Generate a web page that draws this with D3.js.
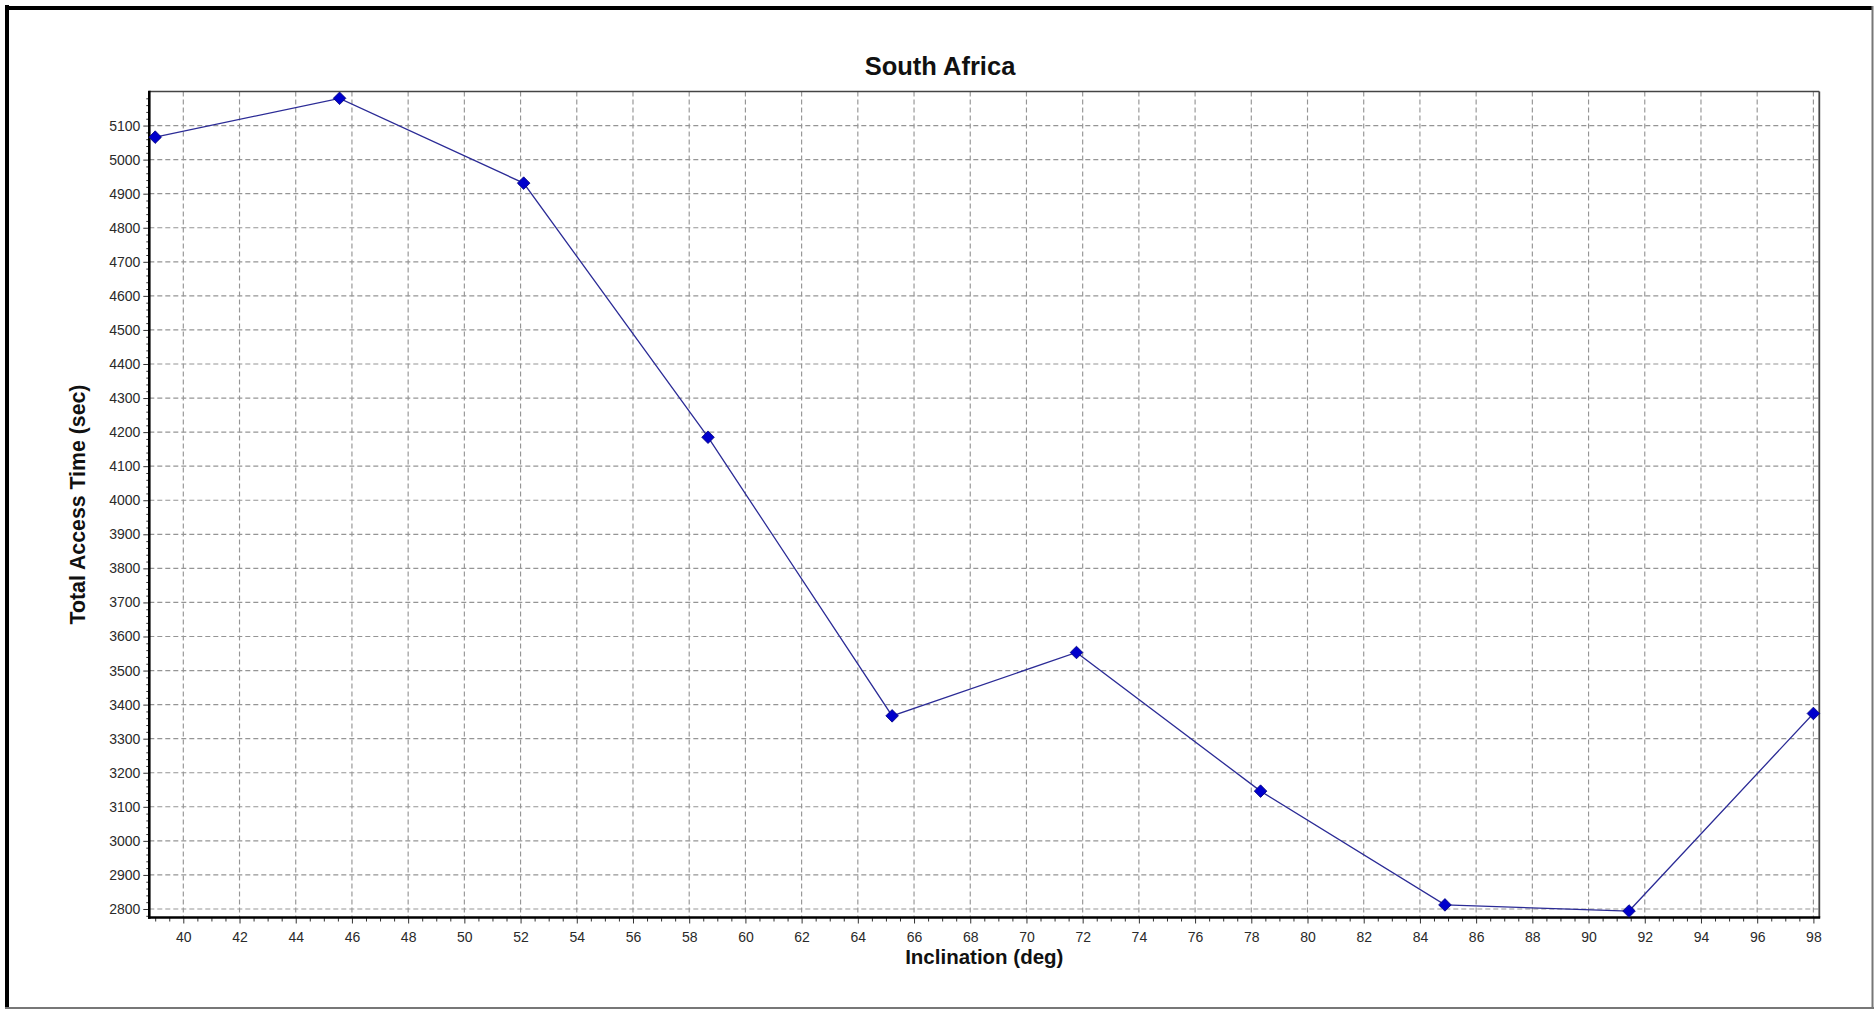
<!DOCTYPE html>
<html>
<head>
<meta charset="utf-8">
<script src="https://cdn.jsdelivr.net/npm/d3@7"></script>
<style>
  html, body { margin: 0; padding: 0; background: #fff; }
  svg { display: block; }
  text { font-family: "Liberation Sans", Arial, sans-serif; }
</style>
</head>
<body>
<script>
// ---- data ----
const chartTitle = "South Africa";
const xLabel = "Inclination (deg)";
const yLabel = "Total Access Time (sec)";
const inclination = [39, 45.56, 52.11, 58.67, 65.22, 71.78, 78.33, 84.89, 91.44, 98];
const accessTime = [5066, 5180, 4931, 4185, 3367, 3553, 3146, 2812, 2794, 3374];
const xTickValues = [40, 42, 44, 46, 48, 50, 52, 54, 56, 58, 60, 62, 64, 66, 68, 70, 72, 74, 76, 78, 80, 82, 84, 86, 88, 90, 92, 94, 96, 98];
const yTickValues = [2800, 2900, 3000, 3100, 3200, 3300, 3400, 3500, 3600, 3700, 3800, 3900, 4000, 4100, 4200, 4300, 4400, 4500, 4600, 4700, 4800, 4900, 5000, 5100];

// ---- layout ----
const W = 1874, H = 1009;
const plot = { left: 149.3, right: 1819.3, top: 91.5, bottom: 917.5 };

const svg = d3.select("body").append("svg").attr("width", W).attr("height", H);

// outer frame
svg.append("rect").attr("x", 0).attr("y", 0).attr("width", W).attr("height", H).attr("fill", "#fff");
svg.append("line").attr("x1", 7).attr("x2", 7).attr("y1", 5).attr("y2", 1008).attr("stroke", "#000").attr("stroke-width", 4);
svg.append("line").attr("x1", 5).attr("x2", 1873).attr("y1", 8).attr("y2", 8).attr("stroke", "#000").attr("stroke-width", 4);
svg.append("line").attr("x1", 1872.5).attr("x2", 1872.5).attr("y1", 6).attr("y2", 1009).attr("stroke", "#777").attr("stroke-width", 2);
svg.append("line").attr("x1", 5).attr("x2", 1874).attr("y1", 1008).attr("y2", 1008).attr("stroke", "#777").attr("stroke-width", 2);

const x = d3.scaleLinear().domain([38.79, 98.21]).range([plot.left, plot.right]);
const y = d3.scaleLinear().domain([2775, 5200]).range([plot.bottom, plot.top]);

// grid
const grid = svg.append("g").attr("stroke", "#959595").attr("stroke-width", 1.15).attr("stroke-dasharray", "5,3");
grid.selectAll(".vg").data(xTickValues).enter().append("line")
  .attr("x1", d => x(d)).attr("x2", d => x(d))
  .attr("y1", plot.top).attr("y2", plot.bottom);
grid.selectAll(".hg").data(yTickValues).enter().append("line")
  .attr("x1", plot.left).attr("x2", plot.right)
  .attr("y1", d => y(d)).attr("y2", d => y(d));

// minor ticks
const xMinor = d3.range(39, 98.01, 0.5).filter(v => xTickValues.indexOf(v) < 0);
const yMinor = d3.range(2780, 5200, 20).filter(v => v % 100 !== 0);

const xAxisMinor = d3.axisBottom(x).tickValues(xMinor).tickSize(4).tickFormat("");
const xAxisMajor = d3.axisBottom(x).tickValues(xTickValues).tickSize(6).tickPadding(9).tickFormat(d3.format("d"));
const yAxisMinor = d3.axisLeft(y).tickValues(yMinor).tickSize(3).tickFormat("");
const yAxisMajor = d3.axisLeft(y).tickValues(yTickValues).tickSize(6).tickPadding(3).tickFormat(d3.format("d"));

function styleAxis(g) {
  g.select(".domain").remove();
  g.selectAll(".tick line").attr("stroke", "#333").attr("stroke-width", 1);
  g.selectAll(".tick text").attr("fill", "#2a2a2a").style("font-size", "14px").style("font-family", "'Liberation Sans', Arial, sans-serif");
}

svg.append("g").attr("transform", `translate(0,${plot.bottom})`).call(xAxisMinor).call(styleAxis);
svg.append("g").attr("transform", `translate(0,${plot.bottom})`).call(xAxisMajor).call(styleAxis);
svg.append("g").attr("transform", `translate(${plot.left},0)`).call(yAxisMinor).call(styleAxis);
svg.append("g").attr("transform", `translate(${plot.left},0)`).call(yAxisMajor).call(styleAxis);

// plot frame
svg.append("line").attr("x1", plot.left).attr("x2", plot.right).attr("y1", plot.top).attr("y2", plot.top).attr("stroke", "#444").attr("stroke-width", 1.5);
svg.append("line").attr("x1", plot.right).attr("x2", plot.right).attr("y1", plot.top).attr("y2", plot.bottom).attr("stroke", "#444").attr("stroke-width", 1.8);
svg.append("line").attr("x1", plot.left).attr("x2", plot.left).attr("y1", plot.top - 0.75).attr("y2", plot.bottom + 1.3).attr("stroke", "#000").attr("stroke-width", 2.6);
svg.append("line").attr("x1", plot.left - 1.3).attr("x2", plot.right + 0.9).attr("y1", plot.bottom).attr("y2", plot.bottom).attr("stroke", "#000").attr("stroke-width", 2.6);

// series
const pts = inclination.map((v, i) => [v, accessTime[i]]);
svg.append("path").datum(pts)
  .attr("fill", "none").attr("stroke", "#2b2b96").attr("stroke-width", 1.3)
  .attr("d", d3.line().x(d => x(d[0])).y(d => y(d[1])));

svg.selectAll(".pt").data(pts).enter().append("path")
  .attr("transform", d => `translate(${x(d[0])},${y(d[1])})`)
  .attr("d", "M0,-6.3L6.3,0L0,6.3L-6.3,0Z")
  .attr("fill", "#0000cc").attr("stroke", "#00007a").attr("stroke-width", 0.8);

// titles
svg.append("text").attr("x", 940).attr("y", 75).attr("text-anchor", "middle")
  .style("font-size", "25.5px").style("font-weight", "bold").attr("fill", "#111").text(chartTitle);
svg.append("text").attr("x", (plot.left + plot.right) / 2).attr("y", 964).attr("text-anchor", "middle")
  .style("font-size", "20.5px").style("font-weight", "bold").attr("fill", "#111").text(xLabel);
svg.append("text").attr("transform", `translate(85,${(plot.top + plot.bottom) / 2}) rotate(-90)`).attr("text-anchor", "middle")
  .style("font-size", "21.3px").style("font-weight", "bold").attr("fill", "#111").text(yLabel);
</script>
</body>
</html>
